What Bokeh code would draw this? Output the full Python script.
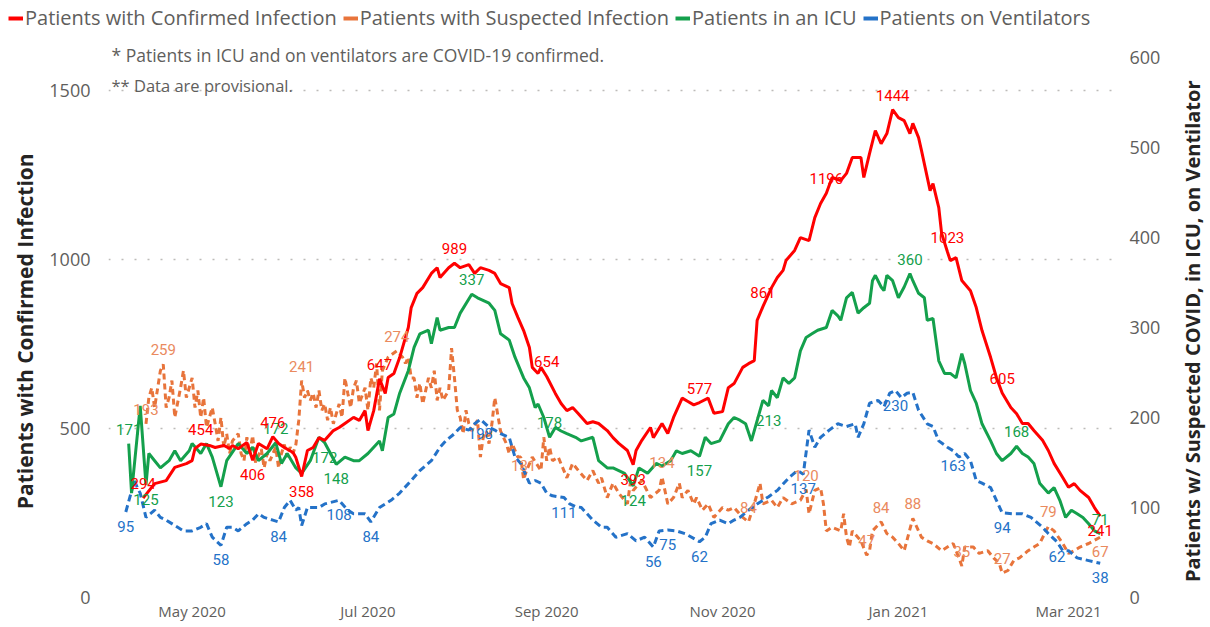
import pandas as pd
from bokeh.plotting import figure
from bokeh.layouts import row, column
from bokeh.models import (Range1d, LinearAxis, ColumnDataSource, Legend, LegendItem,
                          Label, DatetimeTickFormatter, FixedTicker)
from bokeh.core.properties import value
from bokeh.embed import file_html
from bokeh.resources import INLINE

# ---------------- data ----------------
confirmed = [("2020-04-14",294),("2020-04-18",337),("2020-04-22",346),("2020-04-25",385),("2020-04-29",396),
 ("2020-05-01",405),("2020-05-02",441),("2020-05-04",454),("2020-05-07",450),("2020-05-09",444),("2020-05-12",450),
 ("2020-05-14",441),("2020-05-15",450),("2020-05-17",440),("2020-05-20",459),("2020-05-22",406),("2020-05-24",456),
 ("2020-05-27",440),("2020-05-29",476),("2020-05-31",456),("2020-06-02",444),("2020-06-05",429),("2020-06-06",414),
 ("2020-06-08",358),("2020-06-10",435),("2020-06-12",444),("2020-06-14",473),("2020-06-16",465),("2020-06-19",494),
 ("2020-06-21",503),("2020-06-23",515),("2020-06-26",533),("2020-06-28",524),("2020-06-30",553),("2020-07-01",494),
 ("2020-07-03",553),("2020-07-05",647),("2020-07-07",604),("2020-07-08",651),("2020-07-10",663),("2020-07-12",710),
 ("2020-07-15",799),("2020-07-16",858),("2020-07-18",900),("2020-07-20",917),("2020-07-23",959),("2020-07-25",976),
 ("2020-07-26",947),("2020-07-29",976),("2020-07-31",989),("2020-08-02",976),("2020-08-05",985),("2020-08-07",959),
 ("2020-08-09",976),("2020-08-12",968),("2020-08-14",959),("2020-08-16",929),("2020-08-19",917),("2020-08-20",870),
 ("2020-08-22",829),("2020-08-24",790),("2020-08-26",740),("2020-08-27",681),("2020-08-29",663),("2020-08-30",681),
 ("2020-09-01",654),("2020-09-04",604),("2020-09-06",574),("2020-09-08",553),("2020-09-10",562),("2020-09-12",544),
 ("2020-09-15",515),("2020-09-17",520),("2020-09-19",515),("2020-09-22",494),("2020-09-24",473),("2020-09-26",456),
 ("2020-09-29",435),("2020-10-01",393),("2020-10-02",435),("2020-10-04",465),("2020-10-07",503),("2020-10-08",473),
 ("2020-10-11",515),("2020-10-13",485),("2020-10-15",533),("2020-10-18",590),("2020-10-20",580),("2020-10-22",570),
 ("2020-10-24",577),("2020-10-27",590),("2020-10-29",545),("2020-11-01",550),("2020-11-03",621),("2020-11-05",633),
 ("2020-11-08",681),("2020-11-10",692),("2020-11-12",701),("2020-11-13",820),("2020-11-15",861),("2020-11-18",917),
 ("2020-11-20",947),("2020-11-22",968),("2020-11-23",997),("2020-11-26",1027),("2020-11-28",1065),("2020-12-01",1056),
 ("2020-12-03",1124),("2020-12-05",1166),("2020-12-07",1196),("2020-12-09",1243),("2020-12-12",1234),("2020-12-14",1255),
 ("2020-12-16",1302),("2020-12-19",1302),("2020-12-20",1243),("2020-12-22",1314),("2020-12-24",1382),("2020-12-26",1343),
 ("2020-12-28",1373),("2020-12-30",1444),("2021-01-01",1420),("2021-01-03",1411),("2021-01-05",1373),("2021-01-06",1403),
 ("2021-01-08",1361),("2021-01-09",1323),("2021-01-12",1204),("2021-01-13",1225),("2021-01-15",1154),("2021-01-16",1077),
 ("2021-01-18",1023),("2021-01-19",997),("2021-01-21",1006),("2021-01-23",938),("2021-01-26",908),("2021-01-28",858),
 ("2021-01-30",790),("2021-02-02",710),("2021-02-04",651),("2021-02-06",605),("2021-02-09",562),("2021-02-11",544),
 ("2021-02-13",515),("2021-02-15",515),("2021-02-17",494),("2021-02-20",465),("2021-02-22",435),("2021-02-24",397),
 ("2021-02-27",355),("2021-03-01",326),("2021-03-03",337),("2021-03-05",317),("2021-03-08",296),("2021-03-10",266),
 ("2021-03-12",241)]

suspected = [("2020-04-15",193),("2020-04-16",222),("2020-04-17",233),("2020-04-18",211),("2020-04-20",252),
 ("2020-04-21",259),("2020-04-22",211),("2020-04-23",222),("2020-04-24",241),("2020-04-25",200),("2020-04-27",233),
 ("2020-04-28",252),("2020-04-29",222),("2020-05-01",244),("2020-05-02",211),("2020-05-03",230),("2020-05-04",200),
 ("2020-05-05",222),("2020-05-06",189),("2020-05-08",211),("2020-05-09",193),("2020-05-10",174),("2020-05-11",200),
 ("2020-05-12",167),("2020-05-13",182),("2020-05-14",160),("2020-05-15",174),("2020-05-17",182),("2020-05-18",160),
 ("2020-05-19",152),("2020-05-20",178),("2020-05-21",160),("2020-05-22",180),("2020-05-23",150),("2020-05-25",165),
 ("2020-05-26",144),("2020-05-27",160),("2020-05-28",152),("2020-05-30",167),("2020-05-31",144),("2020-06-01",160),
 ("2020-06-02",170),("2020-06-03",156),("2020-06-04",167),("2020-06-05",160),("2020-06-06",170),("2020-06-07",197),
 ("2020-06-08",241),("2020-06-09",222),("2020-06-10",230),("2020-06-11",219),("2020-06-12",227),("2020-06-13",211),
 ("2020-06-14",230),("2020-06-15",208),("2020-06-16",215),("2020-06-17",197),("2020-06-18",211),("2020-06-19",193),
 ("2020-06-20",204),("2020-06-21",215),("2020-06-22",200),("2020-06-23",244),("2020-06-24",227),("2020-06-25",211),
 ("2020-06-26",233),("2020-06-27",241),("2020-06-28",216),("2020-06-30",233),("2020-07-01",208),("2020-07-02",244),
 ("2020-07-03",233),("2020-07-04",260),("2020-07-05",208),("2020-07-06",252),("2020-07-08",267),("2020-07-11",274),
 ("2020-07-13",267),("2020-07-14",260),("2020-07-15",267),("2020-07-16",244),("2020-07-17",244),("2020-07-18",222),
 ("2020-07-19",238),("2020-07-20",215),("2020-07-22",244),("2020-07-23",233),("2020-07-24",252),("2020-07-25",219),
 ("2020-07-26",233),("2020-07-27",219),("2020-07-29",230),("2020-07-30",277),("2020-07-31",244),("2020-08-01",208),
 ("2020-08-02",200),("2020-08-03",182),("2020-08-04",208),("2020-08-05",193),("2020-08-06",185),("2020-08-08",197),
 ("2020-08-09",156),("2020-08-10",178),("2020-08-11",185),("2020-08-12",171),("2020-08-13",193),("2020-08-14",222),
 ("2020-08-16",185),("2020-08-17",178),("2020-08-18",171),("2020-08-19",160),("2020-08-20",171),("2020-08-22",156),
 ("2020-08-23",156),("2020-08-24",131),("2020-08-25",141),("2020-08-27",156),("2020-08-30",141),("2020-08-31",178),
 ("2020-09-01",152),("2020-09-02",167),("2020-09-03",152),("2020-09-05",156),("2020-09-08",133),("2020-09-10",149),
 ("2020-09-12",141),("2020-09-15",130),("2020-09-17",141),("2020-09-19",127),("2020-09-20",133),("2020-09-22",111),
 ("2020-09-24",127),("2020-09-26",116),("2020-09-29",104),("2020-09-30",127),("2020-10-01",119),("2020-10-04",130),
 ("2020-10-07",111),("2020-10-10",119),("2020-10-11",134),("2020-10-12",119),("2020-10-13",104),("2020-10-15",111),
 ("2020-10-17",127),("2020-10-18",111),("2020-10-20",119),("2020-10-22",104),("2020-10-23",111),("2020-10-25",97),
 ("2020-10-27",104),("2020-10-29",89),("2020-11-01",100),("2020-11-03",97),("2020-11-05",100),("2020-11-08",89),
 ("2020-11-10",84),("2020-11-12",104),("2020-11-14",127),("2020-11-15",104),("2020-11-18",108),("2020-11-20",100),
 ("2020-11-22",111),("2020-11-25",104),("2020-11-28",108),("2020-11-30",120),("2020-12-01",93),("2020-12-03",119),
 ("2020-12-05",122),("2020-12-06",104),("2020-12-07",74),("2020-12-09",78),("2020-12-12",74),("2020-12-13",93),
 ("2020-12-14",67),("2020-12-15",56),("2020-12-16",74),("2020-12-19",63),("2020-12-21",47),("2020-12-22",52),
 ("2020-12-23",74),("2020-12-26",84),("2020-12-28",71),("2020-12-30",67),("2021-01-01",60),("2021-01-03",52),
 ("2021-01-06",88),("2021-01-09",67),("2021-01-11",63),("2021-01-13",60),("2021-01-16",52),("2021-01-18",56),
 ("2021-01-20",60),("2021-01-22",44),("2021-01-23",35),("2021-01-24",56),("2021-01-27",56),("2021-01-29",49),
 ("2021-02-01",52),("2021-02-03",44),("2021-02-05",38),("2021-02-06",27),("2021-02-08",30),("2021-02-10",41),
 ("2021-02-12",44),("2021-02-15",52),("2021-02-17",56),("2021-02-19",60),("2021-02-22",79),("2021-02-24",74),
 ("2021-02-27",60),("2021-03-01",49),("2021-03-03",52),("2021-03-05",56),("2021-03-08",60),("2021-03-12",67)]

icu = [("2020-04-09",171),("2020-04-10",116),("2020-04-13",213),("2020-04-15",125),("2020-04-16",160),("2020-04-18",152),
 ("2020-04-20",144),("2020-04-23",152),("2020-04-25",163),("2020-04-27",152),("2020-04-30",163),("2020-05-01",171),
 ("2020-05-04",160),("2020-05-06",171),("2020-05-08",156),("2020-05-11",123),("2020-05-13",152),("2020-05-17",171),
 ("2020-05-20",160),("2020-05-22",167),("2020-05-24",152),("2020-05-27",160),("2020-05-30",172),("2020-06-01",149),
 ("2020-06-03",160),("2020-06-06",144),("2020-06-08",138),("2020-06-11",152),("2020-06-14",178),("2020-06-16",172),
 ("2020-06-18",160),("2020-06-20",148),("2020-06-23",156),("2020-06-26",152),("2020-06-28",152),("2020-07-01",160),
 ("2020-07-03",167),("2020-07-05",174),("2020-07-06",163),("2020-07-08",200),("2020-07-10",204),("2020-07-12",227),
 ("2020-07-15",252),("2020-07-17",278),("2020-07-19",293),("2020-07-22",297),("2020-07-23",282),("2020-07-25",311),
 ("2020-07-26",297),("2020-07-29",300),("2020-07-31",300),("2020-08-02",316),("2020-08-06",337),("2020-08-08",333),
 ("2020-08-12",327),("2020-08-14",319),("2020-08-16",293),("2020-08-19",286),("2020-08-21",267),("2020-08-24",244),
 ("2020-08-26",233),("2020-08-28",211),("2020-08-29",215),("2020-08-31",200),("2020-09-02",178),("2020-09-04",189),
 ("2020-09-06",185),("2020-09-08",182),("2020-09-11",178),("2020-09-13",174),("2020-09-17",178),("2020-09-19",152),
 ("2020-09-22",144),("2020-09-24",144),("2020-09-28",138),("2020-10-01",124),("2020-10-03",144),("2020-10-06",138),
 ("2020-10-09",149),("2020-10-11",146),("2020-10-14",152),("2020-10-16",163),("2020-10-18",160),("2020-10-21",163),
 ("2020-10-24",157),("2020-10-26",178),("2020-10-28",171),("2020-10-31",174),("2020-11-03",193),("2020-11-05",200),
 ("2020-11-07",197),("2020-11-09",193),("2020-11-11",174),("2020-11-15",219),("2020-11-17",213),("2020-11-18",230),
 ("2020-11-20",222),("2020-11-22",244),("2020-11-24",238),("2020-11-26",244),("2020-11-28",274),("2020-11-30",289),
 ("2020-12-02",293),("2020-12-04",297),("2020-12-07",300),("2020-12-09",319),("2020-12-11",313),("2020-12-12",308),
 ("2020-12-14",333),("2020-12-16",339),("2020-12-18",316),("2020-12-20",322),("2020-12-22",327),("2020-12-23",352),
 ("2020-12-24",358),("2020-12-26",345),("2020-12-27",341),("2020-12-28",358),("2020-12-30",352),("2021-01-01",333),
 ("2021-01-03",345),("2021-01-05",360),("2021-01-06",352),("2021-01-08",338),("2021-01-10",333),("2021-01-11",308),
 ("2021-01-13",310),("2021-01-15",263),("2021-01-17",249),("2021-01-19",249),("2021-01-21",244),("2021-01-23",271),
 ("2021-01-24",260),("2021-01-26",230),("2021-01-28",216),("2021-01-30",193),("2021-02-02",174),("2021-02-04",160),
 ("2021-02-06",152),("2021-02-09",160),("2021-02-11",168),("2021-02-13",160),("2021-02-15",156),("2021-02-17",149),
 ("2021-02-19",127),("2021-02-22",116),("2021-02-24",122),("2021-02-26",108),("2021-02-28",89),("2021-03-02",97),
 ("2021-03-04",93),("2021-03-06",89),("2021-03-08",82),("2021-03-10",74),("2021-03-12",71)]

ventilators = [("2020-04-08",95),("2020-04-11",130),("2020-04-12",122),("2020-04-13",116),("2020-04-15",89),
 ("2020-04-18",97),("2020-04-20",89),("2020-04-22",86),("2020-04-26",78),("2020-04-28",74),("2020-05-01",74),
 ("2020-05-04",78),("2020-05-06",82),("2020-05-08",67),("2020-05-11",58),("2020-05-13",78),("2020-05-15",78),
 ("2020-05-17",74),("2020-05-20",82),("2020-05-22",86),("2020-05-24",93),("2020-05-26",89),("2020-05-29",86),
 ("2020-05-31",84),("2020-06-02",100),("2020-06-04",108),("2020-06-06",97),("2020-06-07",100),("2020-06-08",80),
 ("2020-06-10",100),("2020-06-14",100),("2020-06-16",104),("2020-06-21",108),("2020-06-24",97),("2020-06-26",93),
 ("2020-06-30",93),("2020-07-02",84),("2020-07-05",100),("2020-07-09",108),("2020-07-12",116),("2020-07-16",130),
 ("2020-07-19",141),("2020-07-23",152),("2020-07-26",167),("2020-07-28",174),("2020-07-31",182),("2020-08-02",189),
 ("2020-08-05",186),("2020-08-07",193),("2020-08-09",198),("2020-08-12",189),("2020-08-14",186),("2020-08-16",182),
 ("2020-08-19",178),("2020-08-21",156),("2020-08-23",149),("2020-08-26",127),("2020-08-28",130),("2020-08-30",127),
 ("2020-09-01",116),("2020-09-03",113),("2020-09-07",111),("2020-09-09",104),("2020-09-11",101),("2020-09-13",100),
 ("2020-09-15",93),("2020-09-17",86),("2020-09-20",78),("2020-09-22",78),("2020-09-25",67),("2020-09-29",71),
 ("2020-10-02",63),("2020-10-05",67),("2020-10-08",56),("2020-10-10",74),("2020-10-13",75),("2020-10-16",74),
 ("2020-10-19",71),("2020-10-24",62),("2020-10-26",67),("2020-10-28",82),("2020-10-31",86),("2020-11-03",82),
 ("2020-11-05",86),("2020-11-07",89),("2020-11-10",97),("2020-11-13",104),("2020-11-17",112),("2020-11-20",119),
 ("2020-11-24",133),("2020-11-27",141),("2020-11-29",137),("2020-12-01",186),("2020-12-03",167),("2020-12-05",178),
 ("2020-12-08",186),("2020-12-11",193),("2020-12-14",190),("2020-12-17",193),("2020-12-18",178),("2020-12-20",193),
 ("2020-12-22",216),("2020-12-25",219),("2020-12-27",212),("2020-12-29",227),("2020-12-31",230),("2021-01-02",222),
 ("2021-01-04",227),("2021-01-06",228),("2021-01-08",208),("2021-01-11",193),("2021-01-13",190),("2021-01-15",174),
 ("2021-01-18",167),("2021-01-20",163),("2021-01-22",156),("2021-01-24",160),("2021-01-26",152),("2021-01-28",130),
 ("2021-01-30",127),("2021-02-02",122),("2021-02-04",108),("2021-02-06",94),("2021-02-10",93),("2021-02-13",93),
 ("2021-02-16",89),("2021-02-20",78),("2021-02-22",71),("2021-02-25",62),("2021-02-27",52),("2021-03-01",52),
 ("2021-03-04",44),("2021-03-08",41),("2021-03-12",38)]

# data labels: (date, value, placement a=above / b=below)
confirmed_labels = [("2020-04-14",294,"a"),("2020-05-04",454,"a"),("2020-05-22",406,"b"),("2020-05-29",476,"a"),
 ("2020-06-08",358,"b"),("2020-07-05",647,"a"),("2020-07-31",989,"a"),("2020-09-01",654,"a"),("2020-10-01",393,"b"),
 ("2020-10-24",577,"a"),("2020-11-15",861,"a"),("2020-12-07",1196,"a"),("2020-12-30",1444,"a"),("2021-01-18",1023,"a"),
 ("2021-02-06",605,"a"),("2021-03-12",241,"b")]
suspected_labels = [("2020-04-15",193,"a"),("2020-04-21",259,"a"),("2020-06-08",241,"a"),("2020-07-11",274,"a"),
 ("2020-08-24",131,"a"),("2020-10-11",134,"a"),("2020-11-10",84,"a"),("2020-11-30",120,"a"),("2020-12-21",47,"a"),
 ("2020-12-26",84,"a"),("2021-01-06",88,"a"),("2021-01-23",35,"a"),("2021-02-06",27,"a"),("2021-02-22",79,"a"),
 ("2021-03-12",67,"b")]
icu_labels = [("2020-04-09",171,"a"),("2020-04-15",125,"b"),("2020-05-11",123,"b"),("2020-05-30",172,"a"),
 ("2020-06-16",172,"b"),("2020-06-20",148,"b"),("2020-08-06",337,"a"),("2020-09-02",178,"a"),("2020-10-01",124,"b"),
 ("2020-10-24",157,"b"),("2020-11-17",213,"b"),("2021-01-05",360,"a"),("2021-02-11",168,"a"),("2021-03-12",71,"a")]
ventilator_labels = [("2020-04-08",95,"b"),("2020-05-11",58,"b"),("2020-05-31",84,"b"),("2020-06-21",108,"b"),
 ("2020-07-02",84,"b"),("2020-08-09",198,"b"),("2020-09-07",111,"b"),("2020-10-08",56,"b"),("2020-10-13",75,"b"),
 ("2020-10-24",62,"b"),("2020-11-29",137,"b"),("2020-12-31",230,"b"),("2021-01-20",163,"b"),("2021-02-06",94,"b"),
 ("2021-02-25",62,"b"),("2021-03-12",38,"b")]

series_names = ["Patients with Confirmed Infection", "Patients with Suspected Infection",
                "Patients in an ICU", "Patients on Ventilators"]
left_title = "Patients with Confirmed Infection"
right_title = "Patients w/ Suspected COVID, in ICU, on Ventilator"
x_tick_dates = ["2020-05-01", "2020-07-01", "2020-09-01", "2020-11-01", "2021-01-01", "2021-03-01"]
left_ticks = [0, 500, 1000, 1500]
right_ticks = [0, 100, 200, 300, 400, 500, 600]
notes = ["* Patients in ICU and on ventilators are COVID-19 confirmed.", "** Data are provisional."]

# ---------------- styling / layout ----------------
RED, ORANGE, GREEN, BLUE = "#FF0000", "#E8743B", "#14A04C", "#2472C8"
ORANGE_TXT = "#EA8A5E"
GRAY = "#605E5C"
DARK = "#252423"
FONT = "Open Sans"
RIGHT_MAX = 620.0
LEFT_MAX = RIGHT_MAX * 1598.0 / 600.0
TOTAL_W = 1210
HEAD_H = 34
H = 589
LEFT_W = 42
SIDE_W = 36
MAIN_W = TOTAL_W - LEFT_W - SIDE_W
FRAME_L, FRAME_R = 108, 1117
TITLE_CY = 342   # vertical centre used for the two rotated axis titles

p = figure(width=MAIN_W, height=H, x_axis_type="datetime",
           x_range=Range1d(pd.Timestamp("2020-04-02"), pd.Timestamp("2021-03-18")),
           y_range=Range1d(0, LEFT_MAX),
           output_backend="svg", toolbar_location=None,
           min_border_left=FRAME_L - LEFT_W, min_border_right=MAIN_W - (FRAME_R - LEFT_W),
           min_border_top=5, min_border_bottom=14)
p.extra_y_ranges = {"right": Range1d(0, RIGHT_MAX)}
p.outline_line_color = None
p.background_fill_color = "white"

def src(pairs):
    return ColumnDataSource(dict(x=pd.to_datetime([d for d, _ in pairs]), y=[v for _, v in pairs]))

p.line("x", "y", source=src(suspected), y_range_name="right", color=ORANGE, line_width=3,
       line_dash="6 4")
p.line("x", "y", source=src(ventilators), y_range_name="right", color=BLUE, line_width=3,
       line_dash="7 4")
p.line("x", "y", source=src(icu), y_range_name="right", color=GREEN, line_width=3)
p.line("x", "y", source=src(confirmed), color=RED, line_width=3)

def labels(items, color, rng=None):
    for pos, base, off in (("a", "bottom", -9), ("b", "top", 9)):
        sel = [it for it in items if it[2] == pos]
        if not sel:
            continue
        s = ColumnDataSource(dict(x=pd.to_datetime([d for d, _, _ in sel]),
                                  y=[v for _, v, _ in sel],
                                  t=[str(v) for _, v, _ in sel]))
        kw = dict(y_range_name=rng) if rng else {}
        p.text("x", "y", text="t", source=s, text_color=color, text_align="center",
               text_baseline=base, y_offset=off, text_font=value("Roboto"),
               text_font_size="15px", **kw)

labels(suspected_labels, ORANGE_TXT, "right")
labels(ventilator_labels, BLUE, "right")
labels(icu_labels, GREEN, "right")
labels(confirmed_labels, RED)

# axes
p.xaxis.ticker = FixedTicker(ticks=[pd.Timestamp(d).value / 1e6 for d in x_tick_dates])
fmt = "%b %Y"
p.xaxis.formatter = DatetimeTickFormatter(days=fmt, months=fmt, years=fmt, hours=fmt,
                                          minutes=fmt, seconds=fmt, milliseconds=fmt,
                                          minsec=fmt, hourmin=fmt)
p.xaxis.major_label_text_font_size = "15px"
p.xaxis.major_label_standoff = 3

p.yaxis.ticker = FixedTicker(ticks=left_ticks)
p.yaxis.major_label_text_font_size = "18px"
p.yaxis.major_label_standoff = 18

right = LinearAxis(y_range_name="right", ticker=FixedTicker(ticks=right_ticks))
right.major_label_text_font_size = "18px"
right.major_label_standoff = 12
p.add_layout(right, "right")

for ax in p.axis:
    ax.axis_line_color = None
    ax.major_tick_line_color = None
    ax.minor_tick_line_color = None
    ax.major_tick_out = 0
    ax.major_tick_in = 0
    ax.major_label_text_color = GRAY
    ax.major_label_text_font = FONT

p.xgrid.visible = False
p.ygrid.ticker = FixedTicker(ticks=left_ticks)
p.ygrid.grid_line_color = "#BDBBB9"
p.ygrid.grid_line_dash = "2 11"
p.ygrid.grid_line_width = 1.5

# notes (inside the plot frame, near its top)
p.add_layout(Label(x=3, y=1604, x_units="screen", y_units="data", text=notes[0],
                   text_baseline="middle", text_font=FONT, text_font_size="17.5px",
                   text_color=GRAY))
p.add_layout(Label(x=3, y=1515, x_units="screen", y_units="data", text=notes[1],
                   text_baseline="middle", text_font=FONT, text_font_size="16.5px",
                   text_color=GRAY))

# header strip with the legend (solid swatches, as in the reference)
head = figure(width=TOTAL_W, height=HEAD_H, toolbar_location=None, output_backend="svg",
              x_range=Range1d(0, 1), y_range=Range1d(0, 1), min_border=0)
head.axis.visible = False
head.grid.visible = False
head.outline_line_color = None
swatches = [head.line(x=[-1], y=[-1], color=c, line_width=4) for c in (RED, ORANGE, GREEN, BLUE)]
legend = Legend(items=[LegendItem(label=n, renderers=[r]) for n, r in zip(series_names, swatches)],
                orientation="horizontal", location=(8, 3),
                label_text_font=FONT, label_text_font_size="20px", label_text_color=GRAY,
                glyph_width=15, glyph_height=20, label_height=20, label_standoff=2,
                spacing=6, padding=0, margin=0, border_line_alpha=0, background_fill_alpha=0)
head.add_layout(legend, "center")

def title_strip(width, text, cx, size):
    f = figure(width=width, height=H, toolbar_location=None, output_backend="svg",
               x_range=Range1d(0, width), y_range=Range1d(0, H), min_border=0)
    f.axis.visible = False
    f.grid.visible = False
    f.outline_line_color = None
    f.add_layout(Label(x=cx, y=H - (TITLE_CY - HEAD_H), text=text, angle=90, angle_units="deg",
                       text_align="center", text_baseline="middle", text_font=FONT,
                       text_font_size=size, text_font_style="bold", text_color=DARK))
    return f

left_strip = title_strip(LEFT_W, left_title, 24, "21px")
side = title_strip(SIDE_W, right_title, 1192 - (TOTAL_W - SIDE_W), "20px")

open("out.html", "w").write(file_html(column(head, row(left_strip, p, side)), INLINE))
